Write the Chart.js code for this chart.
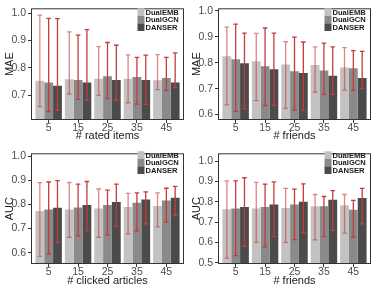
<!DOCTYPE html>
<html><head><meta charset="utf-8">
<script src="https://cdn.jsdelivr.net/npm/chart.js@4/dist/chart.umd.min.js"></script>
<style>
html,body{margin:0;padding:0;background:#fff;}
#wrap{position:relative;width:374px;height:289px;overflow:hidden;}
canvas{position:absolute;}
</style></head><body>
<div id="wrap">
<canvas id="c1" width="187" height="145" style="left:0;top:0"></canvas>
<canvas id="c2" width="187" height="145" style="left:187px;top:0"></canvas>
<canvas id="c3" width="187" height="144" style="left:0;top:145px"></canvas>
<canvas id="c4" width="187" height="144" style="left:187px;top:145px"></canvas>
</div>
<script>
const cats = ['5', '15', '25', '35', '45'];
const seriesNames = ['DualEMB', 'DualGCN', 'DANSER'];

// Panel 1: MAE vs # rated items
const p1Ticks = [0.7, 0.8, 0.9, 1.0];
const p1EMB = [0.753, 0.759, 0.761, 0.761, 0.755];
const p1GCN = [0.747, 0.756, 0.770, 0.767, 0.763];
const p1DAN = [0.735, 0.747, 0.756, 0.756, 0.747];
const p1EMBLo = [0.659, 0.705, 0.700, 0.673, 0.721];
const p1EMBHi = [0.993, 0.932, 0.878, 0.848, 0.849];
const p1GCNLo = [0.641, 0.685, 0.689, 0.668, 0.717];
const p1GCNHi = [0.981, 0.920, 0.893, 0.839, 0.839];
const p1DANLo = [0.645, 0.682, 0.682, 0.667, 0.728];
const p1DANHi = [0.980, 0.940, 0.883, 0.847, 0.855];

// Panel 2: MAE vs # friends
const p2Ticks = [0.6, 0.7, 0.8, 0.9, 1.0];
const p2EMB = [0.825, 0.806, 0.793, 0.791, 0.782];
const p2GCN = [0.813, 0.786, 0.767, 0.770, 0.779];
const p2DAN = [0.798, 0.775, 0.760, 0.750, 0.741];
const p2EMBLo = [0.637, 0.654, 0.624, 0.687, 0.694];
const p2EMBHi = [0.937, 0.913, 0.881, 0.861, 0.858];
const p2GCNLo = [0.612, 0.635, 0.617, 0.678, 0.693];
const p2GCNHi = [0.949, 0.934, 0.899, 0.876, 0.847];
const p2DANLo = [0.622, 0.636, 0.617, 0.678, 0.700];
const p2DANHi = [0.914, 0.914, 0.880, 0.861, 0.844];

// Panel 3: AUC vs # clicked articles
const p3Ticks = [0.6, 0.7, 0.8, 0.9, 1.0];
const p3EMB = [0.773, 0.779, 0.783, 0.789, 0.794];
const p3GCN = [0.779, 0.787, 0.798, 0.807, 0.816];
const p3DAN = [0.786, 0.798, 0.810, 0.820, 0.828];
const p3EMBLo = [0.585, 0.664, 0.664, 0.678, 0.707];
const p3EMBHi = [0.890, 0.891, 0.864, 0.846, 0.848];
const p3GCNLo = [0.594, 0.670, 0.673, 0.690, 0.727];
const p3GCNHi = [0.893, 0.884, 0.859, 0.848, 0.867];
const p3DANLo = [0.642, 0.691, 0.710, 0.719, 0.754];
const p3DANHi = [0.899, 0.895, 0.884, 0.852, 0.875];

// Panel 4: AUC vs # friends
const p4Ticks = [0.5, 0.6, 0.7, 0.8, 0.9, 1.0];
const p4EMB = [0.763, 0.767, 0.770, 0.778, 0.783];
const p4GCN = [0.767, 0.775, 0.787, 0.778, 0.761];
const p4DAN = [0.775, 0.787, 0.800, 0.810, 0.819];
const p4EMBLo = [0.524, 0.601, 0.601, 0.613, 0.646];
const p4EMBHi = [0.903, 0.895, 0.866, 0.836, 0.836];
const p4GCNLo = [0.536, 0.579, 0.615, 0.629, 0.626];
const p4GCNHi = [0.903, 0.887, 0.862, 0.826, 0.807];
const p4DANLo = [0.582, 0.629, 0.649, 0.660, 0.692];
const p4DANHi = [0.918, 0.898, 0.888, 0.855, 0.866];

const barColors = ['#c2c2c2', '#8a8a8a', '#4b4b4b'];
const errColors = ['rgba(200,60,60,0.62)', '#c43c3c', '#c43c3c'];
const FONT = "'Liberation Sans', Arial, Helvetica, sans-serif";

const errorBarPlugin = {
  id: 'errbars',
  afterDatasetsDraw(chart) {
    const ctx = chart.ctx, ys = chart.scales.y;
    ctx.save();
    chart.data.datasets.forEach((ds, di) => {
      const meta = chart.getDatasetMeta(di);
      ctx.strokeStyle = errColors[di];
      ctx.lineWidth = 1.3;
      meta.data.forEach((bar, i) => {
        const x = bar.x;
        const yl = ys.getPixelForValue(ds.errLow[i]);
        const yh = ys.getPixelForValue(ds.errHigh[i]);
        ctx.beginPath();
        ctx.moveTo(x, yl); ctx.lineTo(x, yh);
        ctx.moveTo(x - 2.3, yl); ctx.lineTo(x + 2.3, yl);
        ctx.moveTo(x - 2.3, yh); ctx.lineTo(x + 2.3, yh);
        ctx.stroke();
      });
    });
    ctx.restore();
  }
};

const framePlugin = {
  id: 'frame',
  afterDraw(chart, args, opts) {
    const {ctx, chartArea: a} = chart;
    ctx.save();
    ctx.strokeStyle = '#333333';
    ctx.lineWidth = 1;
    ctx.strokeRect(a.left + 0.5, a.top + 0.5, a.right - a.left - 1, a.bottom - a.top - 1);
    // legend
    const ly = opts.legendY;
    ctx.font = 'bold 7.6px ' + FONT;
    ctx.textBaseline = 'middle';
    ctx.textAlign = 'left';
    chart.data.datasets.forEach((ds, i) => {
      const cy = ly + i * 7.6;
      ctx.fillStyle = barColors[i];
      ctx.fillRect(137.5, cy - 3.8, 7, 7.6);
      ctx.fillStyle = '#1a1a1a';
      ctx.fillText(ds.label, 145.5, cy + 0.5);
    });
    ctx.restore();
  }
};

function makeChart(id, yTitle, xTitle, ticks, ymin, ymax, means, lows, highs, legendY, xTitlePad) {
  const datasets = seriesNames.map((name, k) => ({
    label: name,
    data: means[k].map((v, i) => ({x: i, y: v})),
    backgroundColor: barColors[k],
    borderWidth: 0,
    categoryPercentage: 0.9,
    barPercentage: 1.0,
    errLow: lows[k],
    errHigh: highs[k]
  }));
  return new Chart(document.getElementById(id), {
    type: 'bar',
    data: {datasets},
    plugins: [errorBarPlugin, framePlugin],
    options: {
      responsive: false,
      animation: false,
      layout: {padding: {top: 3, right: 3, left: 0, bottom: 0}},
      plugins: {legend: {display: false}, tooltip: {enabled: false}, frame: {legendY: legendY}},
      scales: {
        x: {
          type: 'linear', min: -0.6, max: 4.6, offset: false,
          afterBuildTicks: s => { s.ticks = cats.map((c, i) => ({value: i})); },
          afterFit: s => { s.height = 25; },
          grid: {display: true, drawOnChartArea: false, drawTicks: true, tickLength: 3, color: '#333333', offset: false},
          border: {display: false},
          ticks: {
            callback: (v, i) => cats[i], color: '#4d4d4d', padding: -1.5,
            font: {family: FONT, size: 10.5}, maxRotation: 0, autoSkip: false
          },
          title: {display: true, text: xTitle, color: '#1a1a1a', font: {family: FONT, size: 11}, padding: {top: 0, bottom: xTitlePad}}
        },
        y: {
          type: 'linear', min: ymin, max: ymax,
          afterBuildTicks: s => { s.ticks = ticks.map(v => ({value: v})); },
          afterFit: s => { s.width = 31; },
          grid: {display: true, drawOnChartArea: false, drawTicks: true, tickLength: 3, color: '#333333'},
          border: {display: false},
          ticks: {
            callback: v => Number(v).toFixed(1), color: '#4d4d4d', padding: 2,
            font: {family: FONT, size: 10.5}
          },
          title: {display: true, text: yTitle, color: '#1a1a1a', font: {family: FONT, size: 11}, padding: {top: 3.5, bottom: 0}}
        }
      }
    }
  });
}

makeChart('c1', 'MAE', '# rated items', p1Ticks, 0.61, 1.018,
  [p1EMB, p1GCN, p1DAN], [p1EMBLo, p1GCNLo, p1DANLo], [p1EMBHi, p1GCNHi, p1DANHi], 12, 2.4);
makeChart('c2', 'MAE', '# friends', p2Ticks, 0.579, 1.010,
  [p2EMB, p2GCN, p2DAN], [p2EMBLo, p2GCNLo, p2DANLo], [p2EMBHi, p2GCNHi, p2DANHi], 12, 2.4);
makeChart('c3', 'AUC', '# clicked articles', p3Ticks, 0.553, 1.012,
  [p3EMB, p3GCN, p3DAN], [p3EMBLo, p3GCNLo, p3DANLo], [p3EMBHi, p3GCNHi, p3DANHi], 10, 1.4);
makeChart('c4', 'AUC', '# friends', p4Ticks, 0.495, 1.038,
  [p4EMB, p4GCN, p4DAN], [p4EMBLo, p4GCNLo, p4DANLo], [p4EMBHi, p4GCNHi, p4DANHi], 10, 1.4);
</script>
</body></html>
